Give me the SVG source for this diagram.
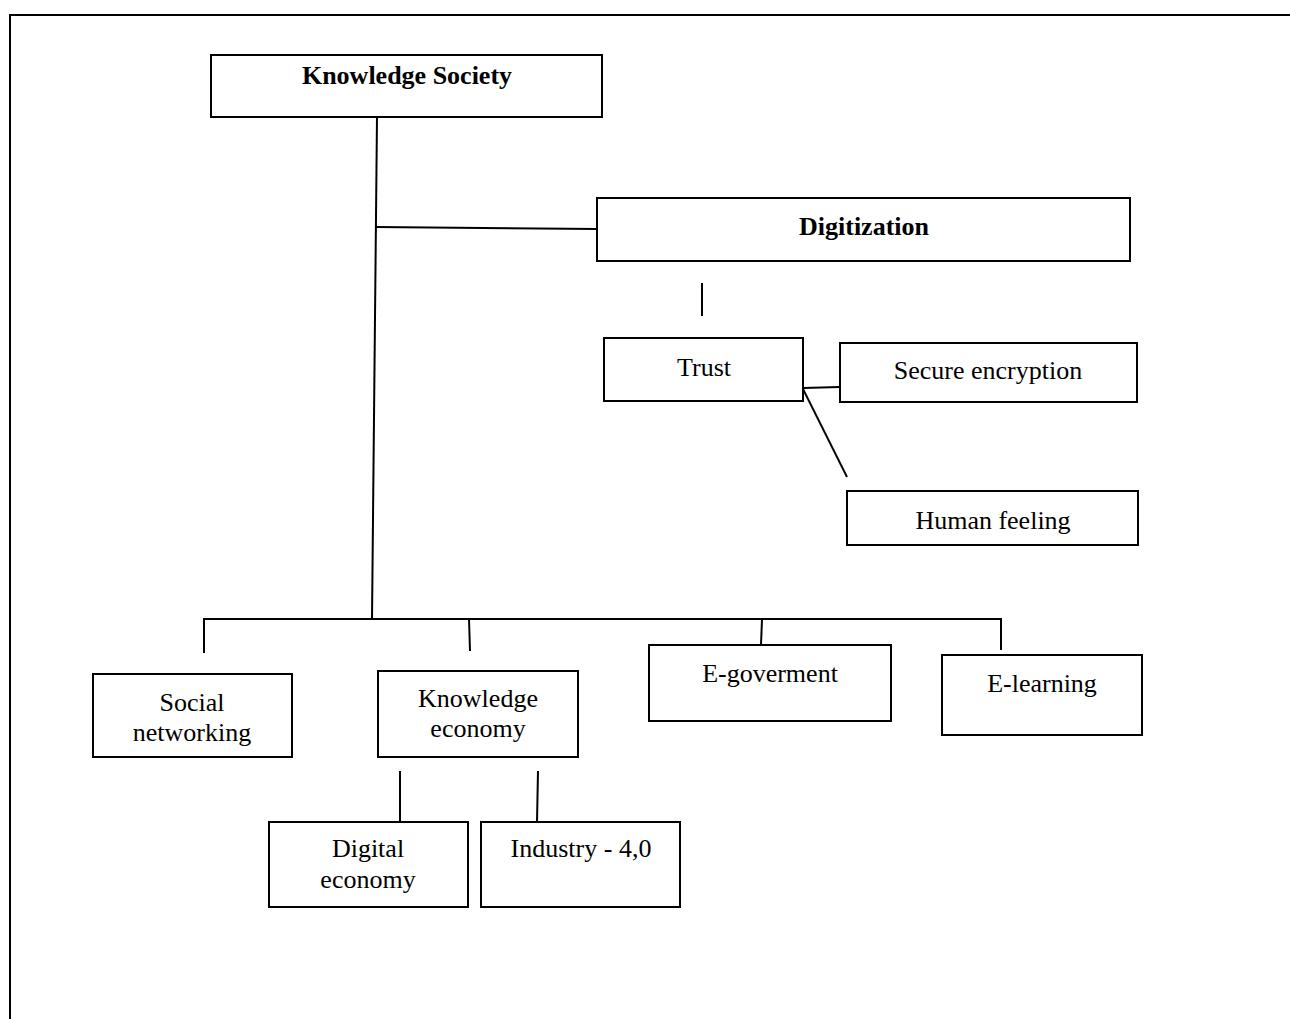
<svg xmlns="http://www.w3.org/2000/svg" width="1290" height="1019" viewBox="0 0 1290 1019">
<style>
.box{fill:#fff;stroke:#000;stroke-width:2}
.ln{stroke:#000;stroke-width:2;fill:none}
.t{font-family:"Liberation Serif","Times New Roman",serif;font-size:26px;fill:#000;text-anchor:middle}
.b{font-weight:bold}
</style>
<rect width="1290" height="1019" fill="#fff"/>
<g id="frame"><path class="ln" d="M10,1019 V15 H1290" stroke-width="3"/></g>
<g id="connectors">
<path class="ln" d="M377,117 L372,619"/>
<path class="ln" d="M376,227 L597,229"/>
<path class="ln" d="M702,283 V316"/>
<path class="ln" d="M803,388 L840,387"/>
<path class="ln" d="M803,389 L847,477"/>
<path class="ln" d="M204,653 V619 H1001 V650"/>
<path class="ln" d="M469,619 L470,651"/>
<path class="ln" d="M762,619 L761,645"/>
<path class="ln" d="M400,771 V822"/>
<path class="ln" d="M538,771 L537,822"/>
</g>
<g id="knowledge-society"><rect class="box" x="211" y="55" width="391" height="62"/><text class="t b" x="407" y="84">Knowledge Society</text></g>
<g id="digitization"><rect class="box" x="597" y="198" width="533" height="63"/><text class="t b" x="864" y="235">Digitization</text></g>
<g id="trust"><rect class="box" x="604" y="338" width="199" height="63"/><text class="t" x="704" y="376">Trust</text></g>
<g id="secure-encryption"><rect class="box" x="840" y="343" width="297" height="59"/><text class="t" x="988" y="379">Secure encryption</text></g>
<g id="human-feeling"><rect class="box" x="847" y="491" width="291" height="54"/><text class="t" x="993" y="529">Human feeling</text></g>
<g id="social-networking"><rect class="box" x="93" y="674" width="199" height="83"/><text class="t" x="192" y="711">Social</text><text class="t" x="192" y="741">networking</text></g>
<g id="knowledge-economy"><rect class="box" x="378" y="671" width="200" height="86"/><text class="t" x="478" y="707">Knowledge</text><text class="t" x="478" y="737">economy</text></g>
<g id="e-goverment"><rect class="box" x="649" y="645" width="242" height="76"/><text class="t" x="770" y="682">E-goverment</text></g>
<g id="e-learning"><rect class="box" x="942" y="655" width="200" height="80"/><text class="t" x="1042" y="692">E-learning</text></g>
<g id="digital-economy"><rect class="box" x="269" y="822" width="199" height="85"/><text class="t" x="368" y="857">Digital</text><text class="t" x="368" y="888">economy</text></g>
<g id="industry"><rect class="box" x="481" y="822" width="199" height="85"/><text class="t" x="581" y="857">Industry - 4,0</text></g>
</svg>
